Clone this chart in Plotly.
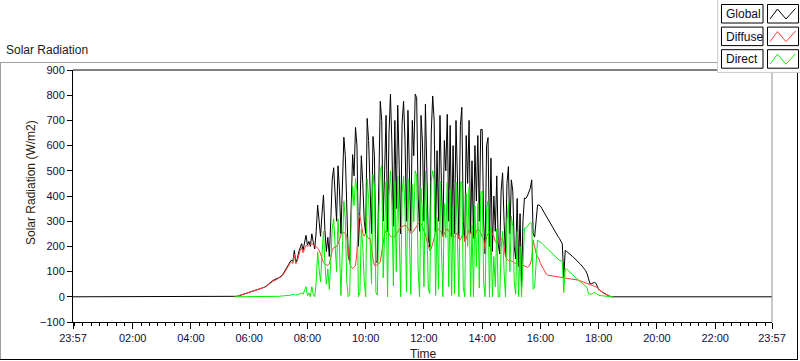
import plotly.graph_objects as go
import pandas as pd

# ---------------- data ----------------
day_start = "2024-01-02 05:30"
day_end = "2024-01-02 18:30"
axis_start = "2024-01-01 23:57"
axis_end = "2024-01-02 23:57"

# samples every 3 minutes from 05:30 to 18:30 (one line per hour)
global_rad = [
    0, 1, 2, 4, 6, 8, 10, 12, 14, 16,                                                      # 05:30
    17, 18, 20, 21, 24, 26, 27, 30, 33, 35, 37, 40, 44, 48, 52, 58, 64, 66, 68, 70,          # 06
    75, 78, 82, 88, 98, 110, 118, 128, 138, 146, 140, 184, 137, 150, 178, 200, 211, 185, 215, 244,  # 07
    205, 220, 200, 250, 217, 190, 260, 364, 300, 240, 330, 404, 264, 180, 236, 160, 300, 464, 512, 380,  # 08
    300, 520, 420, 250, 480, 633, 560, 300, 160, 140, 420, 564, 480, 672, 600, 200, 340, 560, 450, 300,  # 09
    250, 708, 620, 400, 250, 636, 560, 140, 135, 450, 776, 700, 300, 500, 720, 260, 650, 804, 600, 280,  # 10
    700, 350, 760, 520, 250, 690, 776, 620, 300, 740, 460, 260, 700, 560, 804, 790, 400, 260, 720, 610,  # 11
    300, 764, 500, 230, 197, 650, 797, 700, 260, 580, 300, 720, 450, 240, 620, 500, 724, 300, 680, 240,  # 12
    600, 250, 700, 480, 230, 680, 752, 300, 220, 640, 450, 700, 250, 540, 230, 600, 380, 640, 300, 664,  # 13
    664, 300, 170, 600, 632, 200, 550, 180, 400, 260, 480, 210, 170, 420, 492, 300, 160, 450, 517, 250,  # 14
    464, 420, 200, 150, 390, 120, 330, 40, 304, 392, 390, 400, 412, 430, 464, 250, 237, 300, 364, 364,  # 15
    360, 350, 340, 330, 318, 305, 295, 285, 275, 265, 258, 250, 240, 232, 222, 210, 76, 184, 180, 174,  # 16
    170, 166, 160, 155, 150, 144, 138, 132, 126, 120, 112, 104, 92, 70, 52, 52, 55, 57, 54, 40,  # 17
    30, 24, 20, 16, 12, 9, 6, 3, 1, 0, 0,                                                    # 18
]
diffuse_rad = [
    0, 1, 2, 4, 6, 8, 10, 12, 14, 16,
    17, 18, 20, 21, 23, 25, 27, 29, 32, 34, 36, 39, 43, 47, 51, 56, 62, 64, 66, 68,
    73, 76, 79, 85, 94, 105, 113, 122, 132, 138, 132, 170, 131, 142, 168, 185, 195, 175, 190, 204,
    200, 205, 208, 210, 206, 204, 200, 192, 185, 170, 150, 136, 130, 126, 124, 130, 160, 184, 195, 199,
    200, 210, 230, 245, 256, 254, 252, 240, 180, 132, 120, 112, 118, 124, 180, 300, 324, 290, 252, 240,
    252, 240, 231, 232, 200, 150, 124, 124, 128, 131, 140, 180, 224, 250, 264, 262, 250, 240, 237, 237,
    240, 250, 260, 270, 276, 278, 280, 284, 282, 270, 260, 251, 255, 262, 270, 280, 290, 297, 290, 280,
    260, 250, 220, 200, 184, 190, 210, 240, 255, 265, 270, 262, 255, 240, 250, 265, 270, 260, 255, 235,
    240, 238, 245, 255, 230, 225, 240, 260, 220, 230, 250, 265, 250, 255, 230, 240, 260, 270, 265, 255,
    236, 230, 190, 240, 250, 260, 264, 250, 240, 220, 212, 220, 225, 230, 232, 200, 160, 150, 144, 145,
    144, 140, 135, 132, 131, 130, 131, 128, 125, 120, 118, 117, 120, 130, 152, 224, 200, 172, 160, 150,
    132, 120, 108, 96, 90, 86, 85, 84, 84, 84, 84, 83, 82, 81, 80, 78, 76, 75, 74, 74,
    74, 73, 72, 71, 70, 68, 66, 64, 62, 60, 58, 56, 54, 52, 50, 48, 46, 44, 40, 36,
    30, 24, 20, 16, 12, 9, 6, 3, 1, 0, 0,
]
direct_rad = [
    0, 0, 0, 0, 0, 0, 0, 0, 0, 0,
    0, 0, 0, 0, 1, 1, 0, 1, 1, 1, 1, 1, 1, 1, 1, 2, 2, 2, 2, 2,
    2, 2, 3, 3, 4, 5, 5, 6, 6, 8, 8, 10, 6, 8, 10, 12, 15, 10, 25, 40,
    5, 15, 0, 40, 10, 0, 60, 177, 110, 60, 170, 260, 130, 50, 110, 30, 140, 270, 310, 180,
    100, 310, 190, 5, 224, 379, 308, 60, 0, 8, 300, 440, 362, 470, 420, 0, 16, 270, 198, 60,
    0, 468, 390, 168, 50, 486, 436, 16, 7, 320, 500, 520, 76, 250, 456, 0, 400, 500, 363, 43,
    460, 100, 480, 250, 0, 412, 480, 340, 20, 470, 200, 9, 445, 298, 500, 480, 110, 0, 430, 330,
    40, 500, 280, 30, 13, 460, 500, 460, 5, 315, 30, 458, 195, 0, 370, 235, 454, 40, 425, 5,
    360, 12, 455, 225, 0, 455, 456, 40, 0, 410, 200, 435, 0, 285, 0, 360, 120, 370, 35, 409,
    420, 60, 0, 350, 380, 0, 280, 0, 160, 40, 270, 0, 0, 190, 260, 100, 0, 300, 370, 100,
    320, 280, 60, 10, 259, 0, 200, 0, 180, 272, 272, 280, 290, 295, 290, 30, 40, 150, 225, 220,
    217, 212, 206, 200, 195, 190, 184, 178, 172, 166, 160, 155, 150, 146, 144, 140, 17, 112, 110, 105,
    100, 96, 88, 82, 77, 72, 66, 60, 55, 50, 45, 40, 37, 12, 10, 10, 14, 17, 15, 8,
    5, 5, 4, 3, 2, 2, 1, 0, 0, 0, 0,
]
night_value = 0  # global radiation before sunrise / after sunset

tick_times = ["2024-01-01 23:57", "2024-01-02 02:00", "2024-01-02 04:00", "2024-01-02 06:00",
              "2024-01-02 08:00", "2024-01-02 10:00", "2024-01-02 12:00", "2024-01-02 14:00",
              "2024-01-02 16:00", "2024-01-02 18:00", "2024-01-02 20:00", "2024-01-02 22:00",
              "2024-01-02 23:57"]
tick_labels = ["23:57", "02:00", "04:00", "06:00", "08:00", "10:00", "12:00", "14:00",
               "16:00", "18:00", "20:00", "22:00", "23:57"]
y_ticks = [-100, 0, 100, 200, 300, 400, 500, 600, 700, 800, 900]
series_names = ["Global", "Diffuse", "Direct"]
series_colors = ["#000000", "#ff3c3c", "#00f000"]

# ---------------- build ----------------
day_times = [t.strftime("%Y-%m-%d %H:%M:%S") for t in pd.date_range(day_start, day_end, freq="3min")]
g_times = [axis_start] + day_times + [axis_end]
g_vals = [night_value] + global_rad + [night_value]

midnight = pd.Timestamp("2024-01-02 00:00")
minor_vals = []
for k in range(85):
    if k % 7 == 0 and 0 < k < 84:
        continue
    t = midnight + pd.Timedelta(minutes=120 * k / 7)
    minor_vals.append(t.strftime("%Y-%m-%d %H:%M:%S"))

L, R, T, B = 73, 772, 70, 322
W, H = 800, 361


def px(x):
    return (x - L) / (R - L)


def py(y):
    return (B - y) / (B - T)


fig = go.Figure()
fig.add_trace(go.Scatter(x=g_times, y=g_vals, mode="lines", name=series_names[0],
                         line=dict(color=series_colors[0], width=1), hoverinfo="skip"))
fig.add_trace(go.Scatter(x=day_times, y=diffuse_rad, mode="lines", name=series_names[1],
                         line=dict(color=series_colors[1], width=1), hoverinfo="skip"))
fig.add_trace(go.Scatter(x=day_times, y=direct_rad, mode="lines", name=series_names[2],
                         line=dict(color=series_colors[2], width=1), hoverinfo="skip"))

txt_color = "#10103a"
font_family = "Liberation Sans, Arial, sans-serif"

fig.update_layout(
    width=W, height=H,
    margin=dict(l=L, r=W - R, t=T, b=H - B),
    paper_bgcolor="white", plot_bgcolor="white",
    showlegend=False,
    font=dict(family=font_family, size=11, color=txt_color),
    xaxis=dict(
        type="date", range=[axis_start, axis_end],
        tickmode="array", tickvals=tick_times, ticktext=tick_labels,
        ticks="outside", ticklen=6, tickcolor="black", tickwidth=1,
        showgrid=False, zeroline=False,
        showline=True, linecolor="black", linewidth=1,
        tickfont=dict(size=11, color=txt_color),
        minor=dict(tickmode="array", tickvals=minor_vals, ticks="outside", ticklen=3,
                   tickcolor="black", tickwidth=1, showgrid=False),
    ),
    yaxis=dict(
        range=[-100, 900], tickmode="array", tickvals=y_ticks,
        ticks="outside", ticklen=5, tickcolor="black", tickwidth=1,
        showgrid=False, zeroline=False,
        showline=True, linecolor="black", linewidth=1,
        tickfont=dict(size=11, color=txt_color),
    ),
)

shapes = []
# outer panel frame
shapes.append(dict(type="line", xref="paper", yref="paper", x0=px(0), x1=px(718), y0=py(62.5), y1=py(62.5),
                   line=dict(color="#a0a0a0", width=1)))
shapes.append(dict(type="line", xref="paper", yref="paper", x0=px(0.5), x1=px(0.5), y0=py(62.5), y1=py(359.5),
                   line=dict(color="#a0a0a0", width=1)))
shapes.append(dict(type="line", xref="paper", yref="paper", x0=px(0), x1=px(798), y0=py(359.5), y1=py(359.5),
                   line=dict(color="#000000", width=1)))
shapes.append(dict(type="line", xref="paper", yref="paper", x0=px(797.5), x1=px(797.5), y0=py(72), y1=py(359.5),
                   line=dict(color="#000000", width=1)))
# plot frame top (black) and right (gray)
shapes.append(dict(type="line", xref="paper", yref="paper", x0=0, x1=1, y0=1, y1=1,
                   line=dict(color="#000000", width=1)))
shapes.append(dict(type="line", xref="paper", yref="paper", x0=1, x1=1, y0=0, y1=1,
                   line=dict(color="#909090", width=1)))
# legend panel
shapes.append(dict(type="rect", xref="paper", yref="paper", x0=px(717.5), x1=px(801), y0=py(72.5), y1=py(-1),
                   fillcolor="#fbfbfb", line=dict(color="#cfcfcf", width=1)))

annotations = []
for i, name in enumerate(series_names):
    top = 4.5 + i * 22.6
    bot = top + 18.5
    shapes.append(dict(type="rect", xref="paper", yref="paper", x0=px(721.5), x1=px(763), y0=py(bot), y1=py(top),
                       fillcolor="white", line=dict(color="#000000", width=1)))
    shapes.append(dict(type="rect", xref="paper", yref="paper", x0=px(767.5), x1=px(798.5), y0=py(bot), y1=py(top),
                       fillcolor="white", line=dict(color="#000000", width=1)))
    pts = [(770, top + 14.5), (777.5, top + 4.5), (786, top + 14.5), (795.5, top + 4)]
    path = "M " + " L ".join(f"{px(x):.5f},{py(y):.5f}" for x, y in pts)
    shapes.append(dict(type="path", xref="paper", yref="paper", path=path,
                       line=dict(color=series_colors[i], width=1)))
    annotations.append(dict(xref="paper", yref="paper", x=px(723.5), y=py(top + 9.5), text=name,
                            showarrow=False, xanchor="left", yanchor="middle",
                            font=dict(family=font_family, size=12, color="#0b0b2a")))

annotations.append(dict(xref="paper", yref="paper", x=px(4), y=py(50), text="Solar Radiation",
                        showarrow=False, xanchor="left", yanchor="middle",
                        font=dict(family=font_family, size=12, color="#1a1a1a")))
annotations.append(dict(xref="paper", yref="paper", x=px(31), y=py(183), text="Solar Radiation (W/m2)",
                        showarrow=False, xanchor="center", yanchor="middle", textangle=-90,
                        font=dict(family=font_family, size=12, color="#2a2010")))
annotations.append(dict(xref="paper", yref="paper", x=px(423), y=py(354), text="Time",
                        showarrow=False, xanchor="center", yanchor="middle",
                        font=dict(family=font_family, size=12, color="#2a2010")))

fig.update_layout(shapes=shapes, annotations=annotations)
fig.write_html("out.html",
               config={"displayModeBar": False, "staticPlot": True},
               post_script="document.body.style.margin='0';document.body.style.overflow='hidden';")
